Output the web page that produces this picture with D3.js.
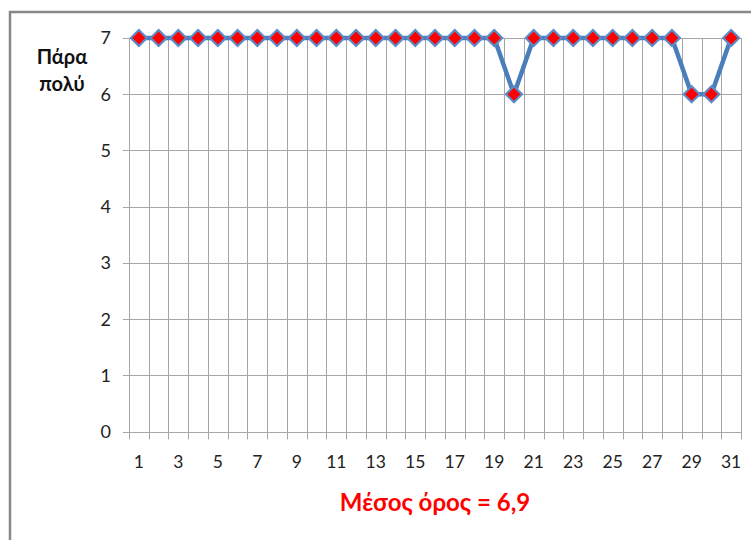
<!DOCTYPE html>
<html><head><meta charset="utf-8">
<script src="https://cdn.jsdelivr.net/npm/d3@7"></script>
<style>html,body{margin:0;padding:0;background:#fff;}svg{display:block;}</style>
</head><body>
<script>
const days = d3.range(1, 32);
const values = [7,7,7,7,7,7,7,7,7,7,7,7,7,7,7,7,7,7,7,6,7,7,7,7,7,7,7,7,6,6,7];
const yTicks = [0,1,2,3,4,5,6,7];
const xTickLabels = days.filter(d => d % 2 === 1);
const yTitle = ["Πάρα", "πολύ"];
const title = "Μέσος όρος = 6,9";

(function () {
const W = 751, H = 540;
const svg = d3.select("body").append("svg").attr("width", W).attr("height", H);
const font = "Lato, 'Open Sans', sans-serif";

// outer border
svg.append("rect").attr("x", 10).attr("y", 12).attr("width", W + 10).attr("height", H + 10)
  .attr("fill", "none").attr("stroke", "#888").attr("stroke-width", 2.5);

const pLeft = 129, pRight = 741, pTop = 38, pBottom = 431.5;
const x = d3.scaleBand().domain(days).range([pLeft, pRight]);
const y = d3.scaleLinear().domain([0, 7]).range([pBottom, pTop]);

// horizontal gridlines
svg.append("g").selectAll("line").data(yTicks).join("line")
  .attr("x1", pLeft - 6).attr("x2", pRight).attr("y1", d => Math.round(y(d)) + 0.5).attr("y2", d => Math.round(y(d)) + 0.5)
  .attr("stroke", "#a6a6a6").attr("stroke-width", 1);

// vertical gridlines at category boundaries
const bounds = days.map(d => x(d)).concat([pRight]);
svg.append("g").selectAll("line").data(bounds).join("line")
  .attr("x1", d => Math.round(d) + 0.5).attr("x2", d => Math.round(d) + 0.5)
  .attr("y1", pTop).attr("y2", pBottom + 8)
  .attr("stroke", "#a6a6a6").attr("stroke-width", 1);

// y labels
svg.append("g").selectAll("text").data(yTicks).join("text")
  .attr("x", 111).attr("y", d => y(d)).attr("dy", "0.36em").attr("text-anchor", "end")
  .attr("font-family", font).attr("font-size", 18).attr("fill", "#222").text(d => d);

// x labels
svg.append("g").selectAll("text").data(xTickLabels).join("text")
  .attr("x", d => x(d) + x.bandwidth() / 2).attr("y", 462).attr("dy", "0.36em").attr("text-anchor", "middle")
  .attr("font-family", font).attr("font-size", 17.5).attr("fill", "#222").text(d => d);

// y title
svg.append("g").selectAll("text").data(yTitle).join("text")
  .attr("x", 62).attr("y", (d, i) => 57 + i * 27).attr("dy", "0.36em").attr("text-anchor", "middle")
  .attr("font-family", font).attr("font-size", 20).attr("font-weight", "bold").attr("fill", "#111").text(d => d);

// line
const line = d3.line().x((d, i) => x(days[i]) + x.bandwidth() / 2).y(d => y(d));
svg.append("path").datum(values).attr("d", line)
  .attr("fill", "none").attr("stroke", "#4a7ebb").attr("stroke-width", 4.5).attr("stroke-linejoin", "round");

// markers
const s = 8;
svg.append("g").selectAll("path").data(values).join("path")
  .attr("transform", (d, i) => `translate(${x(days[i]) + x.bandwidth() / 2},${y(d)})`)
  .attr("d", `M0,${-s}L${s},0L0,${s}L${-s},0Z`)
  .attr("fill", "#ff0000").attr("stroke", "#5b8cc8").attr("stroke-width", 2.2);

// title
svg.append("text").attr("x", (pLeft + pRight) / 2).attr("y", 502).attr("dy", "0.36em").attr("text-anchor", "middle")
  .attr("font-family", font).attr("font-size", 24).attr("font-weight", "bold").attr("fill", "#ff0000").text(title);
})();
</script>
</body></html>
